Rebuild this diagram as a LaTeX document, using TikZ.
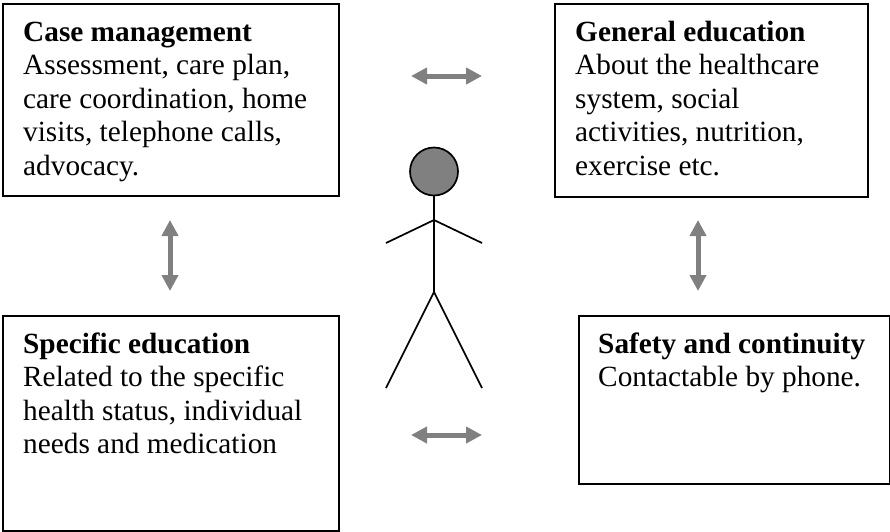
\documentclass[tikz,border=0pt]{standalone}
\usepackage{fontspec}
\setmainfont{Liberation Serif}
\usetikzlibrary{arrows.meta}
\definecolor{linkgray}{gray}{0.5}
\tikzset{
  pxscale/.style={x=1pt,y=-1pt},
  card/.style={draw=black,line width=1.7pt,anchor=north west,inner sep=0pt},
  txt/.style={anchor=base west,inner sep=0pt,align=left,font=\fontsize{29.3pt}{33.5pt}\selectfont},
  link/.style={draw=linkgray,line width=5pt,{Triangle[length=16pt,width=16pt]}-{Triangle[length=16pt,width=16pt]}},
  body/.style={draw=black,line width=1.7pt}
}
\begin{document}
\begin{tikzpicture}[pxscale]
\useasboundingbox (0,0) rectangle (890,531);
\node[card,minimum width=336pt,minimum height=192pt] (cm) at (2,3) {};
\node[card,minimum width=313pt,minimum height=193pt] (ge) at (554,3) {};
\node[card,minimum width=336pt,minimum height=215pt] (se) at (2,315) {};
\node[card,minimum width=311pt,minimum height=168pt] (sc) at (578,315) {};
\node[txt] (cmt) at (23,175) {\textbf{Case management}\\Assessment, care plan,\\care coordination, home\\visits, telephone calls,\\advocacy.};
\node[txt] (get) at (575,175) {\textbf{General education}\\About the healthcare\\system, social\\activities, nutrition,\\exercise etc.};
\node[txt] (set) at (23,453.5) {\textbf{Specific education}\\Related to the specific\\health status, individual\\needs and medication};
\node[txt] (sct) at (598,386.5) {\textbf{Safety and continuity}\\Contactable by phone.};
\coordinate (a1) at (411,76);\coordinate (a2) at (482,76);
\coordinate (b1) at (411,435);\coordinate (b2) at (482,435);
\coordinate (c1) at (170,220);\coordinate (c2) at (170,291);
\coordinate (d1) at (698,220);\coordinate (d2) at (698,291);
\draw[link] (a1) -- (a2);
\draw[link] (b1) -- (b2);
\draw[link] (c1) -- (c2);
\draw[link] (d1) -- (d2);
\node[draw=black,line width=1.7pt,fill=linkgray,circle,minimum size=48pt,inner sep=0pt] (head) at (434,171.5) {};
\coordinate (hip) at (434,292);
\coordinate (sh) at (434,220);
\coordinate (hl) at (386,243);\coordinate (hr) at (482,243);
\coordinate (fl) at (386,388);\coordinate (fr) at (482,388);
\draw[body] (head.south) -- (hip);
\draw[body] (hl) -- (sh) -- (hr);
\draw[body] (fl) -- (hip) -- (fr);
\end{tikzpicture}
\end{document}
